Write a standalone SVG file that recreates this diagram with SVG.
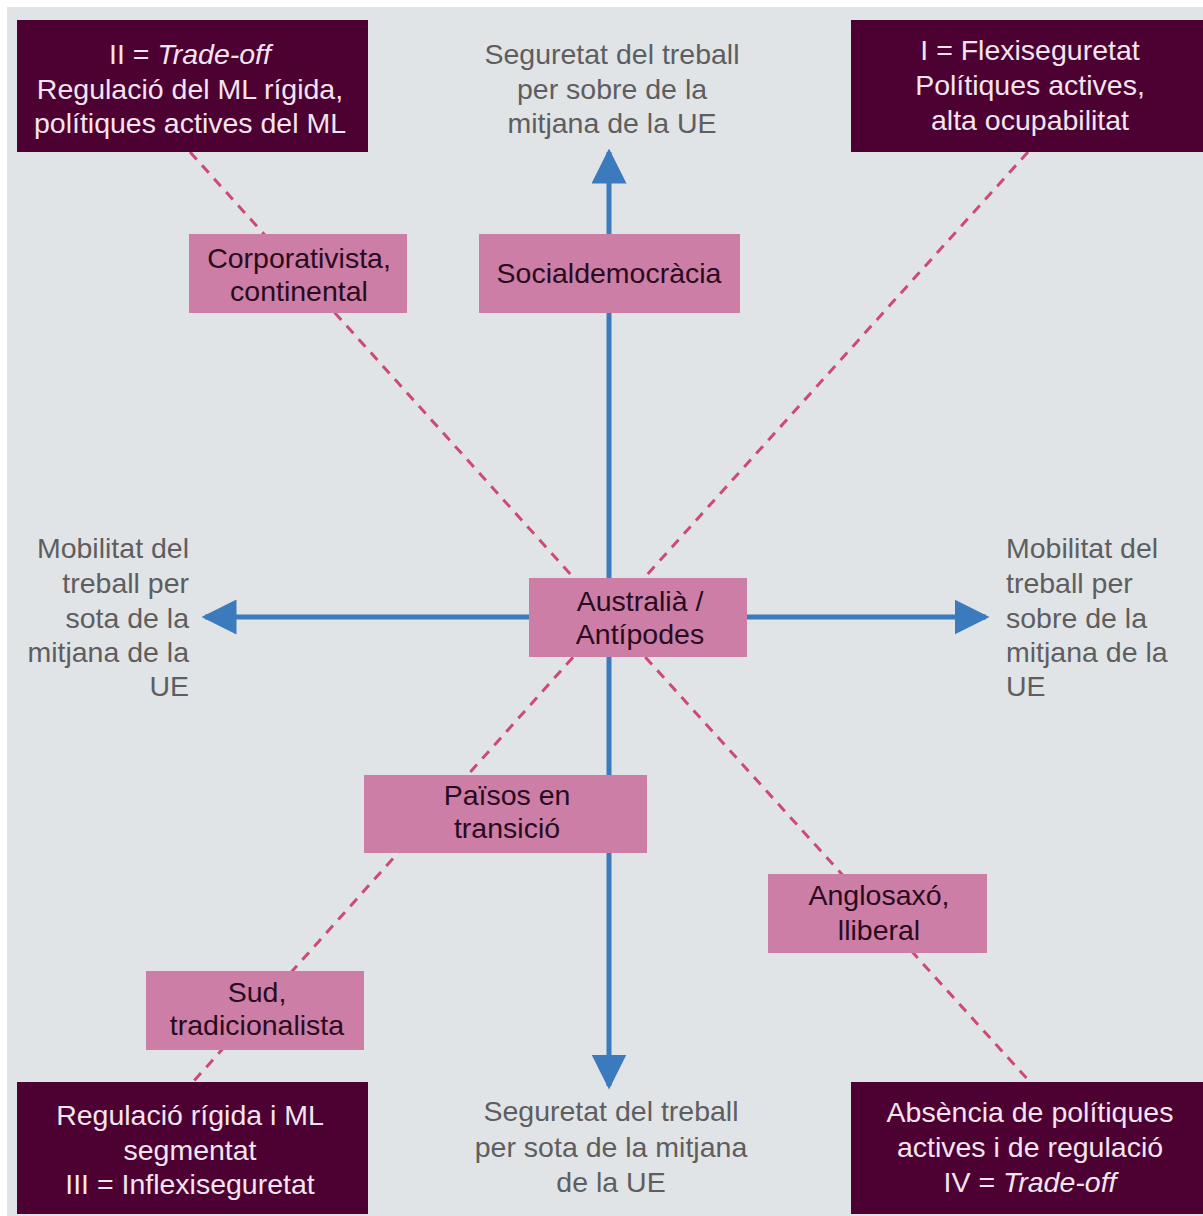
<svg xmlns="http://www.w3.org/2000/svg" width="1203" height="1216" viewBox="0 0 1203 1216">
<defs>
<style>
.bg{fill:#e1e4e6}
.dark{fill:#4d0032}
.pink{fill:#cc7ea6}
.dt{font-family:"Liberation Sans",Arial,sans-serif;font-size:28.5px;fill:#f3e4ee;text-anchor:middle}
.pt{font-family:"Liberation Sans",Arial,sans-serif;font-size:28.5px;fill:#2a0b1e;text-anchor:middle}
.ax{font-family:"Liberation Sans",Arial,sans-serif;font-size:28.5px;fill:#5e5e60}
.axis{stroke:#3a7abd;stroke-width:5;fill:none}
.dash{stroke:#cc4a75;stroke-width:3;stroke-dasharray:10 8;fill:none}
</style>
<marker id="ah" viewBox="0 0 10 10" refX="9" refY="5" markerWidth="7" markerHeight="7" markerUnits="strokeWidth" orient="auto">
<path d="M0,0 L10,5 L0,10 z" fill="#3a7abd"/>
</marker>
</defs>
<rect width="1203" height="1216" fill="#ffffff"/>
<rect class="bg" x="7" y="7" width="1196" height="1209"/>
<g id="connectors">
<line class="dash" x1="190" y1="152" x2="609" y2="617"/>
<line class="dash" x1="1028" y1="152" x2="609" y2="617"/>
<line class="dash" x1="609" y1="617" x2="193" y2="1082"/>
<line class="dash" x1="609" y1="617" x2="1030" y2="1082"/>
<line class="axis" x1="609" y1="617" x2="609" y2="152" marker-end="url(#ah)"/>
<line class="axis" x1="609" y1="617" x2="609" y2="1086" marker-end="url(#ah)"/>
<line class="axis" x1="609" y1="617" x2="205" y2="617" marker-end="url(#ah)"/>
<line class="axis" x1="609" y1="617" x2="986" y2="617" marker-end="url(#ah)"/>
</g>
<g id="box-II">
<rect class="dark" x="17" y="20" width="351" height="132"/>
<text class="dt" x="190" y="64">II = <tspan font-style="italic">Trade-off</tspan></text>
<text class="dt" x="190" y="99">Regulació del ML rígida,</text>
<text class="dt" x="190" y="133">polítiques actives del ML</text>
</g>
<g id="box-I">
<rect class="dark" x="851" y="20" width="352" height="132"/>
<text class="dt" x="1030" y="60">I = Flexiseguretat</text>
<text class="dt" x="1030" y="95">Polítiques actives,</text>
<text class="dt" x="1030" y="130">alta ocupabilitat</text>
</g>
<g id="box-III">
<rect class="dark" x="17" y="1082" width="351" height="132"/>
<text class="dt" x="190" y="1125">Regulació rígida i ML</text>
<text class="dt" x="190" y="1160">segmentat</text>
<text class="dt" x="190" y="1194">III = Inflexiseguretat</text>
</g>
<g id="box-IV">
<rect class="dark" x="851" y="1082" width="352" height="132"/>
<text class="dt" x="1030" y="1122">Absència de polítiques</text>
<text class="dt" x="1030" y="1157">actives i de regulació</text>
<text class="dt" x="1030" y="1192">IV = <tspan font-style="italic">Trade-off</tspan></text>
</g>
<g id="label-top">
<text class="ax" text-anchor="middle" x="612" y="64">Seguretat del treball</text>
<text class="ax" text-anchor="middle" x="612" y="99">per sobre de la</text>
<text class="ax" text-anchor="middle" x="612" y="133">mitjana de la UE</text>
</g>
<g id="label-bottom">
<text class="ax" text-anchor="middle" x="611" y="1121">Seguretat del treball</text>
<text class="ax" text-anchor="middle" x="611" y="1157">per sota de la mitjana</text>
<text class="ax" text-anchor="middle" x="611" y="1192">de la UE</text>
</g>
<g id="label-left">
<text class="ax" text-anchor="end" x="189" y="558">Mobilitat del</text>
<text class="ax" text-anchor="end" x="189" y="593">treball per</text>
<text class="ax" text-anchor="end" x="189" y="628">sota de la</text>
<text class="ax" text-anchor="end" x="189" y="662">mitjana de la</text>
<text class="ax" text-anchor="end" x="189" y="696">UE</text>
</g>
<g id="label-right">
<text class="ax" x="1006" y="558">Mobilitat del</text>
<text class="ax" x="1006" y="593">treball per</text>
<text class="ax" x="1006" y="628">sobre de la</text>
<text class="ax" x="1006" y="662">mitjana de la</text>
<text class="ax" x="1006" y="696">UE</text>
</g>
<g id="corporativista">
<rect class="pink" x="189" y="234" width="218" height="79"/>
<text class="pt" x="299" y="268">Corporativista,</text>
<text class="pt" x="299" y="301">continental</text>
</g>
<g id="socialdemocracia">
<rect class="pink" x="479" y="234" width="261" height="79"/>
<text class="pt" x="609" y="283">Socialdemocràcia</text>
</g>
<g id="australia">
<rect class="pink" x="529" y="578" width="218" height="79"/>
<text class="pt" x="640" y="611">Australià /</text>
<text class="pt" x="640" y="644">Antípodes</text>
</g>
<g id="paisos">
<rect class="pink" x="364" y="775" width="283" height="78"/>
<text class="pt" x="507" y="805">Països en</text>
<text class="pt" x="507" y="838">transició</text>
</g>
<g id="anglosaxo">
<rect class="pink" x="768" y="874" width="219" height="79"/>
<text class="pt" x="879" y="905">Anglosaxó,</text>
<text class="pt" x="879" y="940">lliberal</text>
</g>
<g id="sud">
<rect class="pink" x="146" y="971" width="218" height="79"/>
<text class="pt" x="257" y="1002">Sud,</text>
<text class="pt" x="257" y="1035">tradicionalista</text>
</g>
</svg>
